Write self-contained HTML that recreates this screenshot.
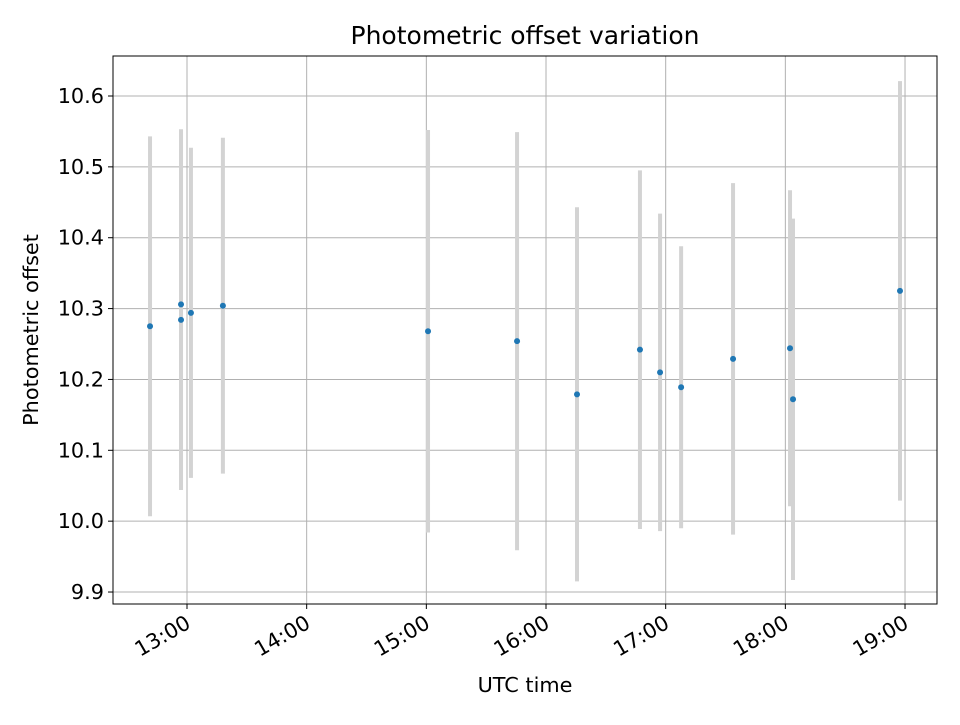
<!DOCTYPE html>
<html><head><meta charset="utf-8"><style>
body{margin:0;background:#fff;font-family:"Liberation Sans","DejaVu Sans",sans-serif}
text{font-family:"DejaVu Sans","Liberation Sans",sans-serif}
</style></head><body>
<svg id="chart" width="960" height="720" xmlns="http://www.w3.org/2000/svg">
<rect width="960" height="720" fill="#fff"/>
<g id="grid"></g>
<g id="marks"></g>
<g id="axes"></g>
<rect x="113" y="56" width="824" height="548" fill="none" stroke="#000" stroke-width="1"/>
<text x="525" y="44" text-anchor="middle" font-size="25">Photometric offset variation</text>
<text x="525" y="692" text-anchor="middle" font-size="20.8">UTC time</text>
<text transform="translate(38,330) rotate(-90)" text-anchor="middle" font-size="20.8">Photometric offset</text>
</svg>
<script>
const times=[12.691,12.95,12.95,13.033,13.30,15.014,15.758,16.259,16.785,16.953,17.129,17.563,18.039,18.064,18.958];
const offsets=[10.275,10.306,10.284,10.294,10.304,10.268,10.254,10.179,10.242,10.210,10.189,10.229,10.244,10.172,10.325];
const errors=[0.268,0.247,0.24,0.233,0.237,0.284,0.295,0.264,0.253,0.224,0.199,0.248,0.223,0.255,0.296];
const yTicks=[9.9,10.0,10.1,10.2,10.3,10.4,10.5,10.6];
const xTicks=[13,14,15,16,17,18,19];
const xTickLabels=["13:00","14:00","15:00","16:00","17:00","18:00","19:00"];
const NS="http://www.w3.org/2000/svg";
const X=h=>187+(h-13)*119.67;
const Y=v=>96+(10.6-v)*708.6;
function mk(tag,attrs,parent){const e=document.createElementNS(NS,tag);for(const k in attrs)e.setAttribute(k,attrs[k]);document.getElementById(parent).appendChild(e);return e;}
yTicks.forEach((t,i)=>{const y=Y(t);
 const g=mk('line',{x1:113,x2:937,y1:y,y2:y,stroke:'#b0b0b0','stroke-width':1},'grid');
 
 
 const tk=mk('line',{x1:108,x2:113,y1:y,y2:y,stroke:'#000'},'axes');
 
 
 const tx=mk('text',{x:104,y:y+7,'text-anchor':'end','font-size':20.8},'axes');tx.textContent=t.toFixed(1);
 
 
});
xTicks.forEach((t,i)=>{const x=X(t);
 const g=mk('line',{x1:x,x2:x,y1:56,y2:604,stroke:'#b0b0b0','stroke-width':1},'grid');
 
 
 const tk=mk('line',{x1:x,x2:x,y1:604,y2:609,stroke:'#000'},'axes');
 
 
 const tx=mk('text',{transform:`translate(${x+5},${627}) rotate(-30)`,'text-anchor':'end','font-size':20.8},'axes');tx.textContent=xTickLabels[i];
 
 
});
times.forEach((t,i)=>{const x=X(t);
 const b=mk('line',{x1:x,x2:x,y1:Y(offsets[i]+errors[i]),y2:Y(offsets[i]-errors[i]),stroke:'#d3d3d3','stroke-width':4},'marks');
 
 
});
times.forEach((t,i)=>{
 const c=mk('circle',{cx:X(t),cy:Y(offsets[i]),r:3,fill:'#1f77b4'},'marks');
 
 
});
</script>
</body></html>
